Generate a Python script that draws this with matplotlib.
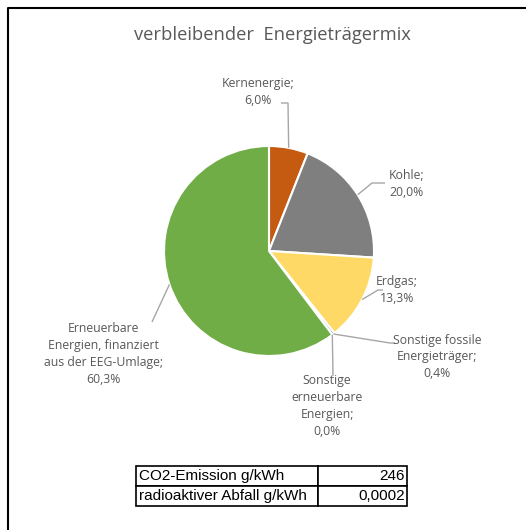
import matplotlib
matplotlib.use("Agg")
import matplotlib.pyplot as plt
from matplotlib.lines import Line2D
import numpy as np

# data
categories = ["Kernenergie", "Kohle", "Erdgas", "Sonstige fossile\nEnergieträger",
              "Sonstige\nerneuerbare\nEnergien", "Erneuerbare\nEnergien, finanziert\naus der EEG-Umlage"]
shares = [6.0, 20.0, 13.3, 0.4, 0.0, 60.3]
colors = ["#C55A11", "#7F7F7F", "#FFD966", "#4472C4", "#5B9BD5", "#70AD47"]
table_rows = ["CO2-Emission g/kWh", "radioaktiver Abfall g/kWh"]
table_vals = ["246", "0,0002"]

W, H = 526, 530
FONT = ["Open Sans", "DejaVu Sans"]
TXT = "#595959"
LEAD = "#A6A6A6"

fig = plt.figure(figsize=(W / 100, H / 100), dpi=100)
fig.patch.set_facecolor("white")

# pie centre (269, 251) px, radius 105 px
cx, cy, r = 269, 251, 105
ax = fig.add_axes([(cx - r) / W, (H - cy - r) / H, 2 * r / W, 2 * r / H])
wedges, _ = ax.pie(shares, colors=colors, startangle=90, counterclock=False,
                   wedgeprops=dict(edgecolor="white", linewidth=1.5))
ax.set_xlim(-1, 1)
ax.set_ylim(-1, 1)
ax.set_aspect("equal")
ax.axis("off")


def d(px, py):
    return (px - cx) / r, (cy - py) / r


# label layout: text centre (px) and leader elbow points (px)
layout = [
    ((258, 92), [(288, 103), (281, 103)]),
    ((407, 184), [(372, 183), (385, 183)]),
    ((397, 290), [(378, 290), (383, 290)]),
    ((437, 357), [(390, 343), (395, 343)]),
    ((327, 406), [(333, 376)]),
    ((103, 354), [(152, 322)]),
]

for w, cat, val, (tpos, pts) in zip(wedges, categories, shares, layout):
    ang = np.deg2rad((w.theta1 + w.theta2) / 2)
    ax0, ay0 = np.cos(ang), np.sin(ang)
    xs = [ax0] + [d(*p)[0] for p in pts]
    ys = [ay0] + [d(*p)[1] for p in pts]
    ax.plot(xs, ys, color=LEAD, lw=1, clip_on=False, solid_capstyle="butt")
    label = f"{cat};\n{val:.1f}%".replace(".", ",")
    tx, ty = d(*tpos)
    ax.text(tx, ty, label, ha="center", va="center", fontsize=8.8, color=TXT,
            family=FONT, linespacing=1.38, clip_on=False)

fig.text(272 / W, 1 - 35 / H, "verbleibender  Energieträgermix", ha="center", va="center",
         fontsize=13.2, color=TXT, family=FONT)

# table
tax = fig.add_axes([136 / W, (H - 506) / H, 271 / W, 40 / H])
tax.axis("off")
tbl = tax.table(cellText=[[a, b] for a, b in zip(table_rows, table_vals)],
                colWidths=[182 / 271, 89 / 271], bbox=[0, 0, 1, 1])
tbl.auto_set_font_size(False)
for (i, j), cell in tbl.get_celld().items():
    cell.set_linewidth(1.2)
    cell.set_edgecolor("black")
    t = cell.get_text()
    t.set_fontsize(11)
    t.set_family(["Liberation Sans", "DejaVu Sans"])
    cell.set_text_props(ha="left" if j == 0 else "right")
    cell.PAD = 0.015 if j == 0 else 0.02

# outer frame (left and top edges visible)
fig.add_artist(Line2D([8 / W, 8 / W, 1], [0, 1 - 8 / H, 1 - 8 / H], color="black", lw=1.5,
                      transform=fig.transFigure))

fig.savefig("out.png", dpi=100)
